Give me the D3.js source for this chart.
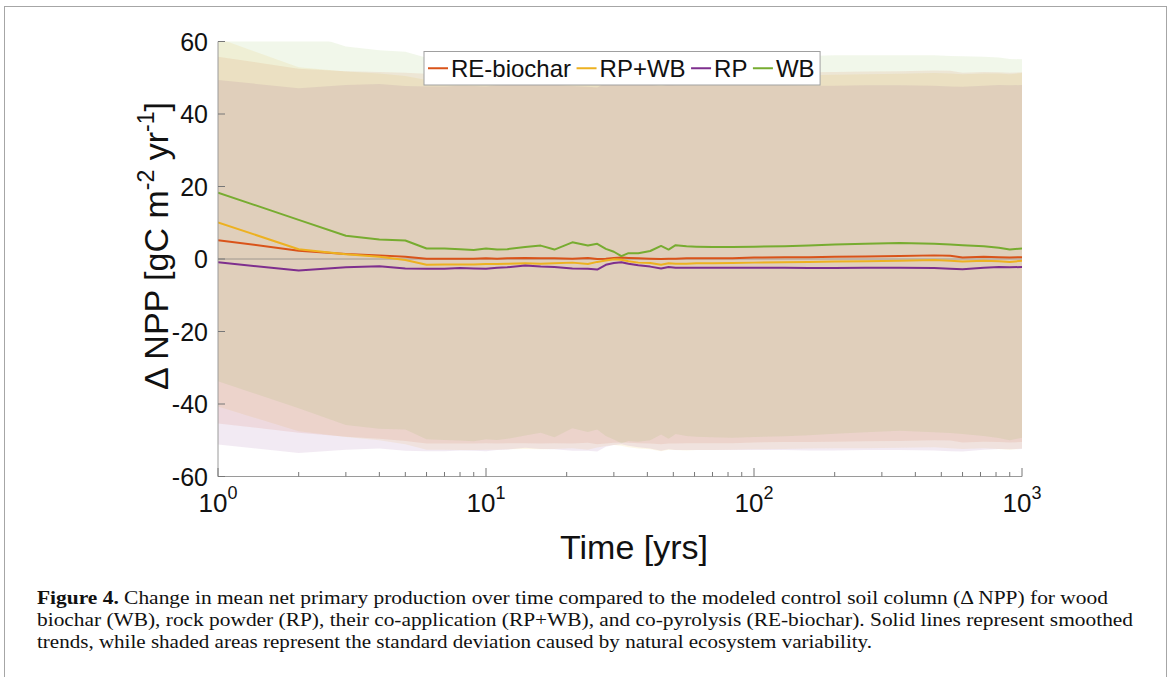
<!DOCTYPE html>
<html><head><meta charset="utf-8">
<script src="https://cdn.jsdelivr.net/npm/d3@7"></script>
<style>body{margin:0;background:#fff}svg{display:block}</style>
</head><body>
<svg id="c" width="1171" height="677"></svg>
<script>
// ---- data ----
const times = [1,2,3,4,5,6,7,8,9,10,11,12,14,16,18,21,24,26,28,30,32,34,37,41,45,48,51,56,61,70,83,100,130,160,200,260,350,470,540,600,720,820,900,1000];
const seriesNames = ["RE-biochar","RP+WB","RP","WB"];
const seriesColors = ["#D95319","#EDB120","#7E2F8E","#77AC30"];
const meanRE = [5.2,2.3,1.4,1.0,0.6,0.1,0.1,0.1,0.1,0.2,0.1,0.2,0.3,0.2,0.2,0.1,0.3,0.0,0.1,0.3,0.4,0.3,0.2,0.1,0.0,0.1,0.1,0.2,0.2,0.2,0.2,0.4,0.5,0.5,0.6,0.7,0.8,1.0,0.9,0.4,0.6,0.5,0.4,0.5];
const meanRPWB = [10.1,2.7,1.3,0.6,-0.3,-1.6,-1.5,-1.5,-1.5,-1.4,-1.4,-1.3,-1.2,-1.3,-1.2,-1.0,-1.4,-0.8,-0.4,-0.1,-0.2,-0.6,-1.0,-1.1,-1.6,-1.2,-1.3,-1.3,-1.2,-1.2,-1.1,-1.0,-0.9,-0.8,-0.7,-0.6,-0.5,-0.3,-0.5,-0.7,-0.5,-0.6,-0.8,-0.5];
const meanRP = [-0.9,-3.2,-2.3,-2.0,-2.6,-2.7,-2.7,-2.5,-2.6,-2.7,-2.4,-2.3,-1.8,-2.1,-2.2,-2.6,-2.7,-2.9,-1.6,-1.1,-0.9,-1.3,-1.7,-2.1,-2.6,-2.2,-2.4,-2.4,-2.4,-2.4,-2.4,-2.4,-2.4,-2.5,-2.5,-2.4,-2.4,-2.5,-2.7,-2.8,-2.4,-2.2,-2.3,-2.2];
const meanWB = [18.3,10.8,6.4,5.4,5.1,2.9,2.9,2.7,2.5,2.9,2.6,2.7,3.3,3.7,2.6,4.6,3.7,4.2,2.8,2.0,0.8,1.6,1.6,2.2,3.6,2.6,3.8,3.5,3.4,3.3,3.3,3.4,3.5,3.7,4.0,4.2,4.4,4.2,4.0,3.8,3.5,3.1,2.6,2.9];
const sdRE = [50.6,50.2,50.4,50.6,50.8,51.0,51.0,51.0,51.0,51.0,51.0,51.0,51.1,51.1,51.0,51.0,51.0,51.1,51.0,51.0,51.0,51.0,51.0,51.0,51.1,51.0,51.0,51.0,51.0,51.0,51.0,51.0,51.0,51.0,51.0,51.0,51.0,51.0,51.0,51.0,51.0,51.0,51.0,51.0];
const sdRPWB = [50.8,50.2,50.4,50.6,50.8,51.0,51.1,51.2,51.2,51.2,51.2,51.2,51.2,51.2,51.2,51.2,51.2,51.2,51.2,51.2,51.3,51.3,51.3,51.4,51.4,51.4,51.4,51.5,51.5,51.5,51.5,51.5,51.5,51.5,51.5,51.6,51.6,51.6,51.7,51.7,51.7,51.8,51.8,51.8];
const sdRP = [50.3,50.3,50.3,50.3,50.3,50.3,50.3,50.3,50.3,50.3,50.3,50.3,50.3,50.3,50.3,50.3,50.2,50.2,50.2,50.2,50.2,50.2,50.2,50.2,50.3,50.3,50.3,50.3,50.3,50.3,50.3,50.3,50.3,50.3,50.3,50.3,50.3,50.3,50.3,50.3,50.2,50.2,50.2,50.2];
const sdWB = [52.0,52.0,52.2,52.2,52.1,52.6,52.8,52.8,52.8,52.6,52.5,52.3,52.0,51.6,51.8,51.3,51.4,51.2,51.6,51.8,51.6,51.8,52.0,52.2,52.0,52.2,52.1,52.3,52.4,52.5,52.6,52.5,52.4,52.3,52.2,52.0,51.8,52.0,52.0,52.1,52.3,52.5,52.6,52.2];
const yTicks = [-60,-40,-20,0,20,40,60];
const xTicks = [1,10,100,1000];
const xTickExp = ["0","1","2","3"];
const captionLines = [
  ["Figure 4.", " Change in mean net primary production over time compared to the modeled control soil column (\u0394 NPP) for wood"],
  ["", "biochar (WB), rock powder (RP), their co-application (RP+WB), and co-pyrolysis (RE-biochar). Solid lines represent smoothed"],
  ["", "trends, while shaded areas represent the standard deviation caused by natural ecosystem variability."]
];
const captionWidths = [1071, 1096, 835];

const means = [meanRE, meanRPWB, meanRP, meanWB];
const sds = [sdRE, sdRPWB, sdRP, sdWB];

// ---- drawing ----
const svg = d3.select("#c");
const x = d3.scaleLog().domain([1,1000]).range([218,1022]);
const y = d3.scaleLinear().domain([-60,60]).range([476.5,41.5]);
const font = "'Liberation Sans', Arial, Helvetica, sans-serif";
const axisCol = "#9a9a9a";

// figure frame
svg.append("rect").attr("x",4.5).attr("y",6.5).attr("width",1162).attr("height",720)
  .attr("fill","none").attr("stroke","#a6a6a6").attr("stroke-width",1);

svg.append("defs").append("clipPath").attr("id","clip").append("rect")
  .attr("x",218).attr("y",41.5).attr("width",804).attr("height",435);

const plot = svg.append("g").attr("clip-path","url(#clip)");

const area = d3.area().x((d,i)=>x(times[i])).y0(d=>y(d.lo)).y1(d=>y(d.hi));
means.forEach((m,k)=>{
  const pts = m.map((v,i)=>({lo:v - sds[k][i], hi:v + sds[k][i]}));
  plot.append("path").attr("d",area(pts)).attr("fill",seriesColors[k]).attr("fill-opacity",0.1).attr("stroke","none");
});

// zero line
plot.append("line").attr("x1",218).attr("x2",1022).attr("y1",y(0)).attr("y2",y(0))
  .attr("stroke","#a09890").attr("stroke-width",1);

const line = d3.line().x((d,i)=>x(times[i])).y(d=>y(d));
means.forEach((m,k)=>{
  plot.append("path").attr("d",line(m)).attr("fill","none").attr("stroke",seriesColors[k])
    .attr("stroke-width",2).attr("stroke-linejoin","round");
});

// axes
const ax = svg.append("g");
ax.append("line").attr("x1",218).attr("x2",218).attr("y1",41.5).attr("y2",476.5).attr("stroke",axisCol);
ax.append("line").attr("x1",218).attr("x2",1022).attr("y1",476.5).attr("y2",476.5).attr("stroke",axisCol);
yTicks.forEach(t=>{
  ax.append("line").attr("x1",218).attr("x2",225).attr("y1",y(t)).attr("y2",y(t)).attr("stroke","#777");
  ax.append("text").attr("x",208).attr("y",y(t)).attr("dy","0.36em").attr("text-anchor","end")
    .attr("font-family",font).attr("font-size",25).attr("fill","#111").text(t);
});
// x minor ticks
const minor = [];
for (let d=1; d<1000; d*=10) for (let k=2;k<=9;k++) minor.push(d*k);
minor.forEach(t=>{
  ax.append("line").attr("x1",x(t)).attr("x2",x(t)).attr("y1",476.5).attr("y2",472).attr("stroke","#777");
});
xTicks.forEach((t,i)=>{
  ax.append("line").attr("x1",x(t)).attr("x2",x(t)).attr("y1",476.5).attr("y2",468).attr("stroke","#777");
  const tx = ax.append("text").attr("x",x(t)).attr("y",512).attr("text-anchor","middle")
    .attr("font-family",font).attr("font-size",26).attr("fill","#111");
  tx.append("tspan").text("10");
  tx.append("tspan").attr("font-size",18).attr("dy",-13).text(xTickExp[i]);
});

// axis labels
svg.append("text").attr("x",634).attr("y",559).attr("text-anchor","middle")
  .attr("font-family",font).attr("font-size",34).attr("fill","#111").text("Time [yrs]");
const yl = svg.append("text").attr("transform","translate(168,246) rotate(-90)").attr("text-anchor","middle")
  .attr("font-family",font).attr("font-size",34).attr("fill","#111");
yl.append("tspan").text("\u0394 NPP [gC m");
yl.append("tspan").attr("font-size",23).attr("dy",-14).text("-2");
yl.append("tspan").attr("dy",14).text(" yr");
yl.append("tspan").attr("font-size",23).attr("dy",-14).text("-1");
yl.append("tspan").attr("dy",14).text("]");

// legend
const lg = svg.append("g");
const lgX = 424, lgY = 51.5, lgH = 33.5;
const box = lg.append("rect").attr("x",lgX).attr("y",lgY).attr("height",lgH).attr("fill","#fff")
  .attr("stroke","#a0a0a0").attr("stroke-width",1);
let cx = lgX + 4;
seriesNames.forEach((n,k)=>{
  lg.append("line").attr("x1",cx).attr("x2",cx+20).attr("y1",lgY+lgH/2).attr("y2",lgY+lgH/2)
    .attr("stroke",seriesColors[k]).attr("stroke-width",2);
  cx += 23;
  const t = lg.append("text").attr("x",cx).attr("y",lgY+lgH/2).attr("dy","0.36em")
    .attr("font-family",font).attr("font-size",24).attr("fill","#111").text(n);
  cx += t.node().getComputedTextLength() + 5.5;
});
box.attr("width", cx - lgX);

// caption
const cap = svg.append("g");
captionLines.forEach((l,i)=>{
  const t = cap.append("text").attr("x",37).attr("y",604 + i*22)
    .attr("font-family","'Liberation Serif','Times New Roman',serif").attr("font-size",19).attr("fill","#111")
    .attr("textLength",captionWidths[i]).attr("lengthAdjust","spacingAndGlyphs");
  if (l[0]) t.append("tspan").attr("font-weight","bold").text(l[0]);
  t.append("tspan").text(l[1]);
});
</script>
</body></html>
